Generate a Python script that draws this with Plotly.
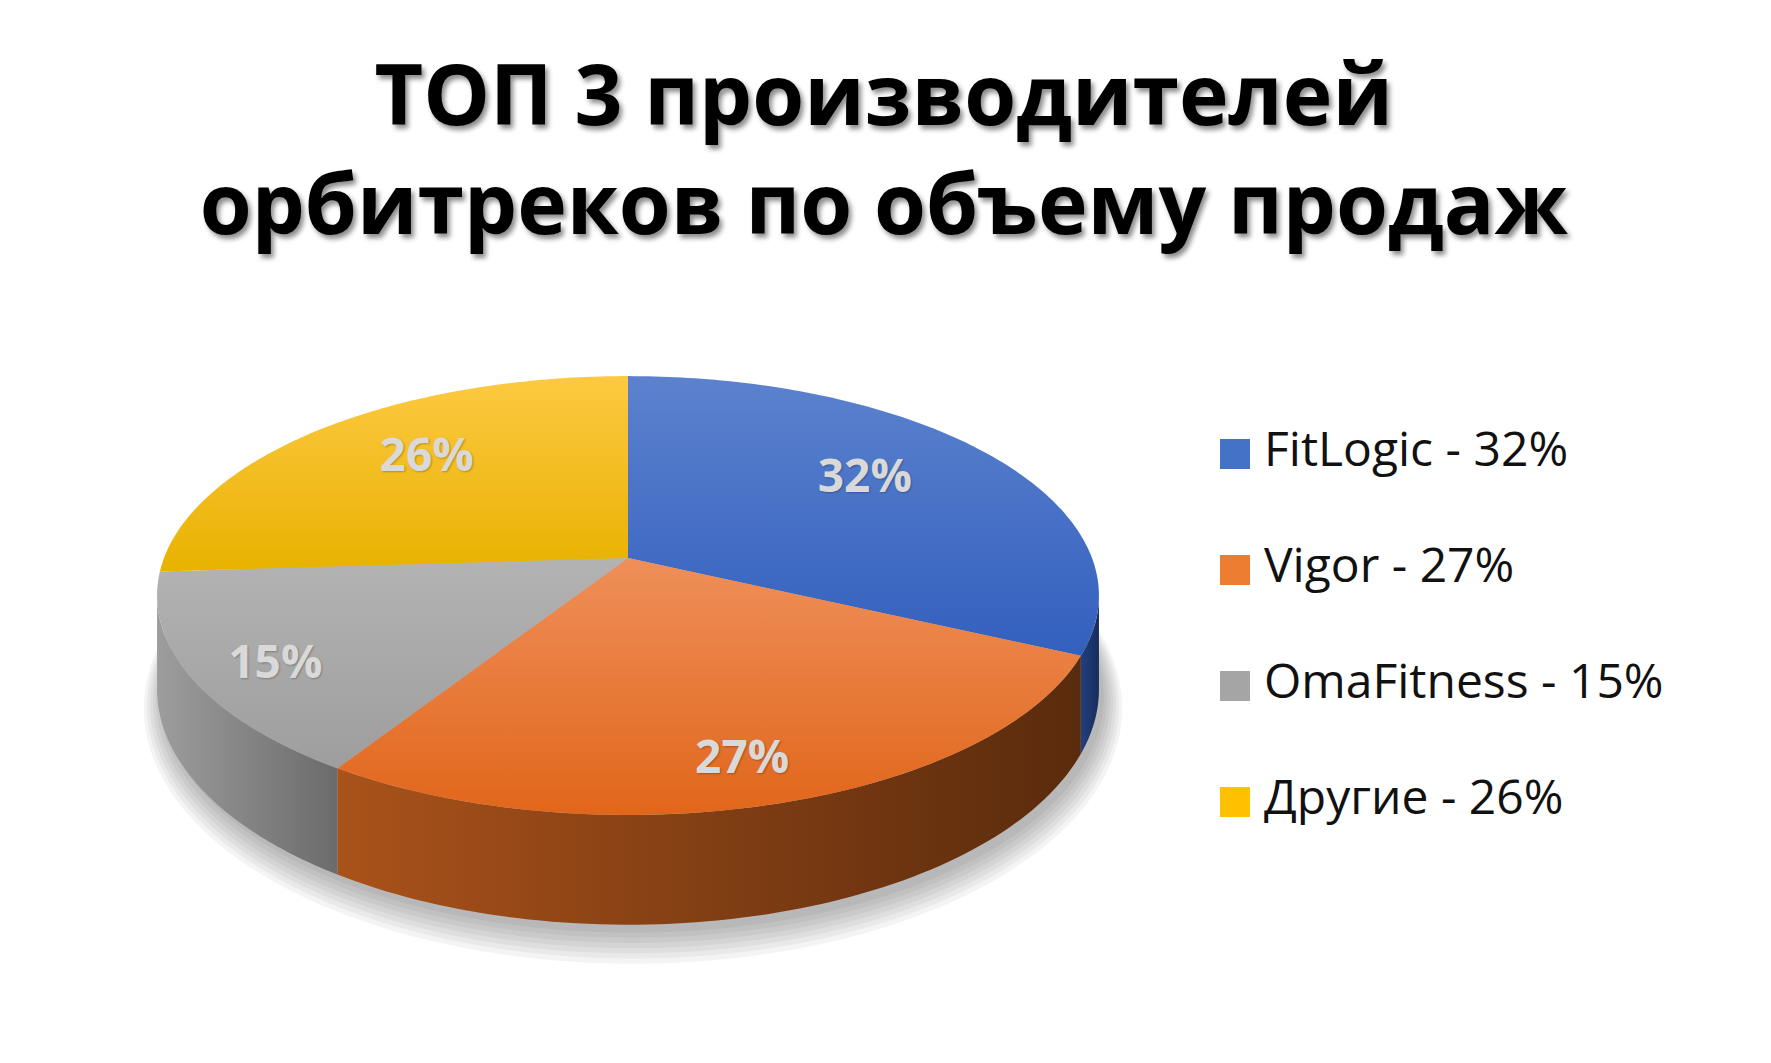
import numpy as np
import plotly.graph_objects as go

# data
title = "ТОП 3 производителей<br>орбитреков по объему продаж"
brands = ["FitLogic", "Vigor", "OmaFitness", "Другие"]
shares = [32, 27, 15, 26]

# styles (top face light->dark, side wall left->right)
top_colors = [("#5C82CE", "#3360BE"), ("#EF8F5A", "#E1661A"),
              ("#B3B3B3", "#9E9E9E"), ("#FDC942", "#E8B200")]
side_colors = [("#22407E", "#182C5C"), ("#AA521A", "#5A2B0D"),
               ("#9D9D9D", "#6B6B6B"), ("#C99A00", "#A88000")]
legend_colors = ["#4472C4", "#ED7D31", "#A5A5A5", "#FFC000"]
label_r = [0.64, 0.77, 0.82, 0.64]
LABEL_YSCALE = 1.13

# geometry in screen pixels
W, H = 1771, 1063
CX, CY = 620, 550
RX, RY = 464, 213
K = 0.171
DEPTH = 91


def project(theta, r=1.0, drop=0.0, yscale=1.0):
    u = r * np.sin(theta)
    v = r * np.cos(theta)
    s = 1 + K * v
    return CX + RX * u / s, CY - yscale * RY * v / s + drop / s


fig = go.Figure()

# soft shadow under the pie
full = np.linspace(0, 2 * np.pi, 240)
for i in range(7):
    g = 3 * i
    sx, sy = project(full, drop=DEPTH)
    sx = CX + (sx - CX) * (1 + g / RX) + 5
    sy = (sy - CY) * (1 + g / RY) + CY + 8
    fig.add_trace(go.Scatter(x=sx, y=sy, fill="toself", mode="none",
                             fillcolor="rgba(0,0,0,0.045)", hoverinfo="skip",
                             showlegend=False))

total = sum(shares)
edges = np.concatenate([[0], np.cumsum(shares)]) / total * 2 * np.pi

# side walls: only the part in front of the silhouette is visible
lo = np.pi / 2 + np.arcsin(K)
hi = 3 * np.pi / 2 - np.arcsin(K)
for i in range(len(shares)):
    a = max(edges[i], lo)
    b = min(edges[i + 1], hi)
    if b <= a:
        continue
    t = np.linspace(a, b, 80)
    x1, y1 = project(t)
    x2, y2 = project(t[::-1], drop=DEPTH)
    xs = np.concatenate([x1, x2, x1[:1]])
    ys = np.concatenate([y1, y2, y1[:1]])
    fig.add_trace(go.Scatter(
        x=xs, y=ys, fill="toself", mode="none", hoverinfo="skip", showlegend=False,
        fillgradient=dict(type="horizontal", start=xs.min(), stop=xs.max(),
                          colorscale=[[0, side_colors[i][0]], [1, side_colors[i][1]]])))

# top faces
for i in range(len(shares)):
    t = np.linspace(edges[i], edges[i + 1], 120)
    ax, ay = project(t)
    xs = np.concatenate([[CX], ax, [CX]])
    ys = np.concatenate([[CY], ay, [CY]])
    fig.add_trace(go.Scatter(
        x=xs, y=ys, fill="toself", mode="none", hoverinfo="skip", showlegend=False,
        fillgradient=dict(type="vertical", start=ys.min(), stop=ys.max(),
                          colorscale=[[0, top_colors[i][0]], [1, top_colors[i][1]]])))

# data labels
mids = (edges[:-1] + edges[1:]) / 2
lx, ly = project(mids, r=np.array(label_r), yscale=LABEL_YSCALE)
fig.add_trace(go.Scatter(
    x=lx, y=ly, mode="text", text=[f"{s}%" for s in shares], hoverinfo="skip",
    showlegend=False,
    textfont=dict(family="Open Sans", size=46, color="#D9D9D9", weight=700,
                  shadow="1px 1px 2px rgba(0,0,0,0.25)")))

# legend
LEG_X, LEG_Y0, LEG_DY = 1227, 446, 116
idx = np.arange(len(brands))
fig.add_trace(go.Scatter(
    x=[LEG_X] * len(brands), y=LEG_Y0 + idx * LEG_DY, mode="markers",
    marker=dict(symbol="square", size=30, color=legend_colors), hoverinfo="skip",
    showlegend=False))
fig.add_trace(go.Scatter(
    x=[LEG_X + 29] * len(brands), y=LEG_Y0 + idx * LEG_DY, mode="text",
    text=[f"{b} - {s}%" for b, s in zip(brands, shares)], textposition="middle right",
    textfont=dict(family="Open Sans", size=48, color="#111111"), hoverinfo="skip",
    showlegend=False))

fig.update_layout(
    width=W, height=H,
    margin=dict(l=0, r=0, t=0, b=0),
    paper_bgcolor="white", plot_bgcolor="white",
    title=dict(text=title, x=0.4945, xanchor="center", y=0.89, yanchor="top",
               font=dict(family="Open Sans", size=84, color="black", weight=700,
                         shadow="3px 4px 5px rgba(0,0,0,0.45)")),
    xaxis=dict(range=[0, W], visible=False, fixedrange=True),
    yaxis=dict(range=[H, 0], visible=False, fixedrange=True),
)

fig.write_html("out.html")
